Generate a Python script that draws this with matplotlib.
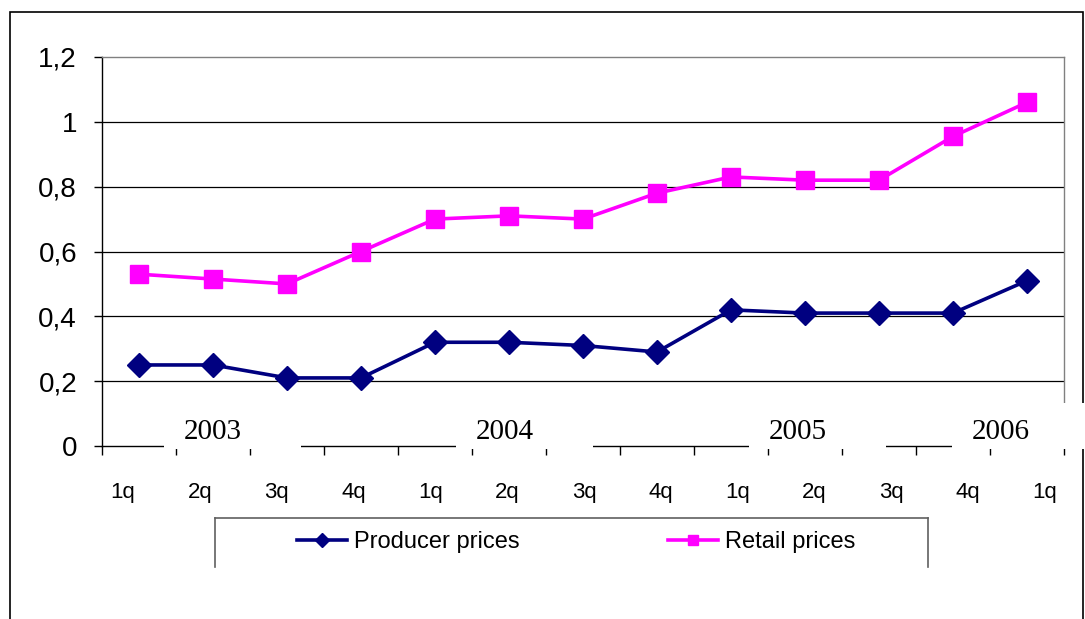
import matplotlib
matplotlib.use('Agg')
import matplotlib.pyplot as plt
from matplotlib.patches import Rectangle
from matplotlib.lines import Line2D
import matplotlib.transforms as mtransforms

# ---- data ----
quarters = ['1q', '2q', '3q', '4q', '1q', '2q', '3q', '4q', '1q', '2q', '3q', '4q', '1q']
years = ['2003', '2004', '2005', '2006']
producer = [0.25, 0.25, 0.21, 0.21, 0.32, 0.32, 0.31, 0.29, 0.42, 0.41, 0.41, 0.41, 0.51]
retail = [0.53, 0.515, 0.50, 0.60, 0.70, 0.71, 0.70, 0.78, 0.83, 0.82, 0.82, 0.955, 1.06]
y_ticks = [0, 0.2, 0.4, 0.6, 0.8, 1.0, 1.2]
y_tick_labels = ['0', '0,2', '0,4', '0,6', '0,8', '1', '1,2']

# ---- layout (not data) ----
year_label_x = [1.0, 4.95, 8.9, 11.65]

W, H = 1085, 619
fig = plt.figure(figsize=(W / 100, H / 100), dpi=100)
fig.patch.set_facecolor('white')


def fx(px):
    return px / W


def fy(py):
    return 1 - py / H


SANS = 'Liberation Sans'
SERIF = 'Liberation Serif'

ax = fig.add_axes([fx(102), fy(446), fx(1064) - fx(102), fy(57) - fy(446)])
x = list(range(len(quarters)))
l1, = ax.plot(x, producer, color='#000080', lw=2.6, marker='D', ms=12.5,
              label='Producer prices', zorder=5)
l2, = ax.plot(x, retail, color='#FF00FF', lw=2.6, marker='s', ms=13,
              label='Retail prices', zorder=5)
ax.set_xlim(-0.5, len(quarters) - 0.5)
ax.set_ylim(0, 1.2)
ax.set_yticks(y_ticks)
ax.set_yticklabels(y_tick_labels, fontsize=20, fontfamily=SANS)
ax.tick_params(axis='y', length=6, pad=12, width=1, direction='out')
ax.set_xticks([i - 0.5 for i in range(len(quarters) + 1)])
ax.set_xticklabels([])
ax.tick_params(axis='x', length=6.5, width=1, direction='out')
for v in y_ticks[1:-1]:
    ax.axhline(v, color='black', lw=0.9, zorder=1)
ax.spines['left'].set_color('black')
ax.spines['bottom'].set_color('black')
ax.spines['top'].set_color('#808080')
ax.spines['right'].set_color('#808080')
for s in ax.spines.values():
    s.set_linewidth(1.0)

# year labels with white boxes covering the axis line
for yr, cx in zip(years, year_label_x):
    ax.add_patch(Rectangle((cx - 0.66, -0.01), 1.85, 0.142, facecolor='white',
                           edgecolor='none', clip_on=False, zorder=3))
    ax.text(cx, 0.0215, yr, ha='center', va='baseline', fontsize=21,
            fontfamily=SERIF, zorder=4, clip_on=False)

# quarter labels (spread slightly wider than the category slots)
axq = fig.add_axes([fx(123 - 38.4), fy(446), fx(76.83 * 13), 0.01])
axq.set_xlim(-0.5, len(quarters) - 0.5)
axq.axis('off')
trq = mtransforms.blended_transform_factory(axq.transData, fig.transFigure)
for i, q in enumerate(quarters):
    axq.text(i, fy(498), q, ha='center', va='baseline', fontsize=16,
             fontfamily=SANS, transform=trq, clip_on=False)

# outer frame
fig.patches.append(Rectangle((fx(10), fy(660)), fx(1083) - fx(10), fy(12) - fy(660),
                             transform=fig.transFigure, facecolor='none',
                             edgecolor='black', lw=1.2, zorder=-1))

# legend box (top and sides)
for xs, ys in [([215, 928], [518, 518]), ([215, 215], [518, 567]), ([928, 928], [518, 567])]:
    fig.lines.append(Line2D([fx(v) for v in xs], [fy(v) for v in ys],
                            transform=fig.transFigure, color='#606060', lw=1.2))

fig.legend(handles=[l1, l2], loc='center', bbox_to_anchor=(fx(576), fy(542)),
           ncol=2, frameon=False, prop={'family': SANS, 'size': 17},
           handlelength=2.1, handletextpad=0.3, columnspacing=6.3,
           markerscale=0.6, borderaxespad=0, borderpad=0)

fig.savefig('out.png', dpi=100)
